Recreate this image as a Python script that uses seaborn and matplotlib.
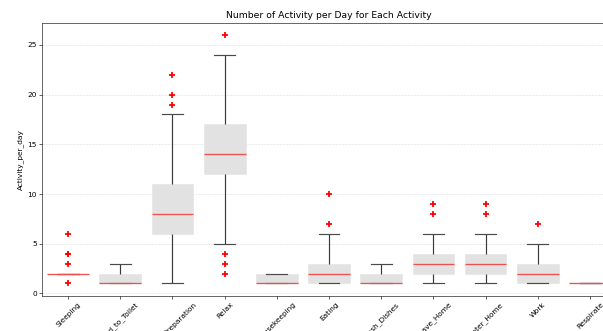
import pandas as pd
import numpy as np
import matplotlib
matplotlib.use('Agg')
import matplotlib.pyplot as plt
import seaborn as sns

# Daily counts of each activity (one value per day)
activities = ['Sleeping', 'Bed_to_Toilet', 'Meal_Preparation', 'Relax', 'Housekeeping',
              'Eating', 'Wash_Dishes', 'Leave_Home', 'Enter_Home', 'Work', 'Respirate']

sleeping = [1, 2, 2, 2, 2, 2, 2, 2, 2, 2, 2, 2, 2, 2, 2, 2, 2, 3, 4, 4, 6]
bed_to_toilet = [1, 1, 1, 1, 1, 1, 1, 1, 1, 1, 1, 2, 2, 2, 2, 2, 2, 2, 2, 3, 3]
meal_preparation = [1, 3, 4, 5, 6, 6, 7, 7, 8, 8, 8, 9, 10, 10, 11, 11, 13, 18, 19, 20, 22]
relax = [2, 3, 4, 5, 10, 12, 12, 13, 13, 14, 14, 15, 15, 16, 17, 17, 19, 20, 22, 24, 26]
housekeeping = [1, 1, 1, 1, 1, 1, 1, 1, 1, 1, 1, 1, 2, 2, 2, 2, 2, 2, 2, 2, 2]
eating = [1, 1, 1, 1, 1, 1, 2, 2, 2, 2, 2, 2, 3, 3, 3, 3, 4, 5, 6, 7, 10]
wash_dishes = [1, 1, 1, 1, 1, 1, 1, 1, 1, 1, 1, 1, 2, 2, 2, 2, 2, 2, 2, 3, 3]
leave_home = [1, 1, 2, 2, 2, 2, 2, 3, 3, 3, 3, 3, 3, 4, 4, 4, 5, 6, 6, 8, 9]
enter_home = [1, 2, 2, 2, 2, 2, 3, 3, 3, 3, 3, 3, 3, 4, 4, 4, 4, 5, 6, 8, 9]
work = [1, 1, 1, 1, 1, 1, 1, 2, 2, 2, 2, 2, 2, 2, 3, 3, 3, 3, 4, 5, 7]
respirate = [1, 1, 1, 1, 1, 1, 1, 1, 1, 1, 1, 1, 1, 1, 1, 1, 1, 1, 1, 1, 1]

counts = [sleeping, bed_to_toilet, meal_preparation, relax, housekeeping,
          eating, wash_dishes, leave_home, enter_home, work, respirate]

rows = []
for this_activity, these_counts in zip(activities, counts):
    for c in these_counts:
        rows.append({'Activity': this_activity, 'Activity_per_day': c})
df = pd.DataFrame(rows)

dpi = 53
fig = plt.figure(figsize=(603 / dpi, 331 / dpi), dpi=dpi)
ax = fig.add_axes([0.0697, 0.106, 0.952, 0.826])

sns.boxplot(data=df, x='Activity', y='Activity_per_day', order=activities, ax=ax,
            width=0.8, whis=1.5,
            boxprops={'facecolor': '#e2e2e2', 'edgecolor': '#e6e6e6', 'linewidth': 1.0},
            medianprops={'color': '#ee5050', 'linewidth': 1.8},
            whiskerprops={'color': '#3a3a3a', 'linewidth': 1.6},
            capprops={'color': '#4a4a4a', 'linewidth': 1.6},
            flierprops={'marker': '+', 'markeredgecolor': 'red', 'markerfacecolor': 'red',
                        'markersize': 8, 'markeredgewidth': 2.4})

ax.set_title('Number of Activity per Day for Each Activity', fontsize=12.5)
ax.set_xlabel('')
ax.set_ylabel('Activity_per_day')
ax.yaxis.grid(True, linestyle='--', color='#dddddd', linewidth=0.8)
ax.set_axisbelow(True)
plt.setp(ax.get_xticklabels(), rotation=45)

plt.savefig('out.png', dpi=dpi)
